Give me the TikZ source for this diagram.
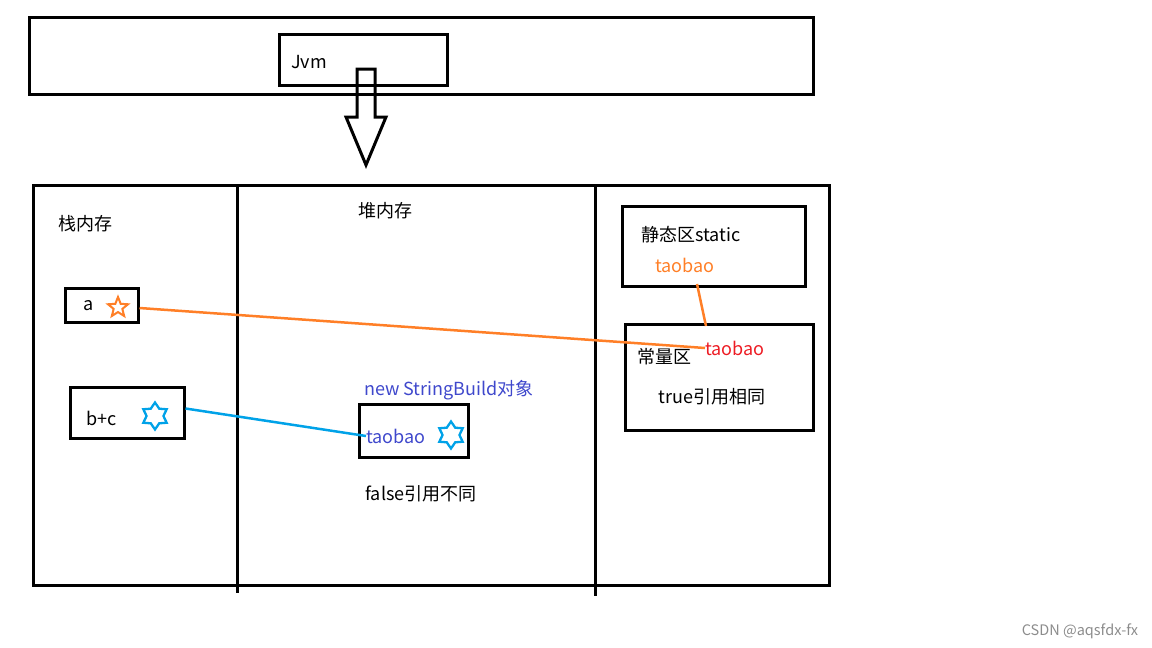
\documentclass[tikz,border=0pt]{standalone}
\usepackage{fontspec}
\setmainfont{Noto Sans CJK SC}
\usetikzlibrary{shapes.geometric}
\definecolor{paintorange}{RGB}{255,127,39}
\definecolor{paintred}{RGB}{237,28,36}
\definecolor{paintblue}{RGB}{0,162,232}
\definecolor{paintindigo}{RGB}{63,72,204}
\begin{document}
\begin{tikzpicture}[x=1pt,y=-1pt,
  box/.style={draw=black,line width=3pt,inner sep=0pt,line join=miter},
  txt/.style={inner sep=0pt,font=\fontsize{18}{21}\selectfont},
  wire/.style={line width=2.5pt},
  fivestar/.style={star,star points=5,star point ratio=2.3,draw=paintorange,line width=2pt,minimum size=21pt,inner sep=0pt},
  sixstar/.style={star,star points=6,star point ratio=1.6,draw=paintblue,line width=2.3pt,minimum size=27pt,inner sep=0pt}]
\useasboundingbox (0,0) rectangle (1152,648);
% top frame
\node[box,minimum width=784pt,minimum height=77pt] (top) at (421,55.5) {};
\node[box,minimum width=168pt,minimum height=51pt] (jvm) at (363,59.5) {};
\node[txt,anchor=west] (jvmt) at (291,62) {Jvm};
% hollow arrow
\draw[line width=3pt,line join=miter] (357,69) -- (375,69) -- (375,117) -- (386,117) -- (366,165) -- (346,117) -- (357,117) -- cycle;
% main frame
\node[box,minimum width=796pt,minimum height=400pt] (main) at (431,385) {};
\coordinate (d1t) at (237,185);
\coordinate (d1b) at (237,593);
\coordinate (d2t) at (595.5,185);
\coordinate (d2b) at (595.5,596);
\draw[line width=3pt] (d1t) -- (d1b);
\draw[line width=3pt] (d2t) -- (d2b);
% section titles
\node[txt,anchor=west] (stack) at (58,224) {栈内存};
\node[txt] (heap) at (385,211) {堆内存};
% stack boxes
\node[box,minimum width=73pt,minimum height=34pt] (boxa) at (101.5,305) {};
\node[txt] (ta) at (89,306) {a};
\node[fivestar] (sa) at (118,307.5) {};
\node[box,minimum width=114pt,minimum height=51pt] (boxbc) at (127,412.5) {};
\node[txt] (tbc) at (102,418) {b+c};
\node[sixstar] (sbc) at (155,416) {};
% heap
\node[txt,text=paintindigo] (sbtitle) at (449,390) {new StringBuild对象};
\node[box,minimum width=109pt,minimum height=53pt] (hbox) at (413.5,430.5) {};
\node[txt,text=paintindigo,anchor=west] (htao) at (366,436) {taobao};
\node[sixstar] (hs) at (451,435) {};
\node[txt] (false) at (421,494) {false引用不同};
% static area
\node[box,minimum width=183pt,minimum height=80pt] (static) at (713.5,246) {};
\node[txt,anchor=west] (statict) at (641,235) {静态区static};
\node[txt,text=paintorange] (stao) at (685,265) {taobao};
% constant pool
\node[box,minimum width=188pt,minimum height=106pt] (const) at (719,377) {};
\node[txt,anchor=west] (constt) at (637,357) {常量区};
\node[txt,text=paintred,anchor=west] (ctao) at (705,348) {taobao};
\node[txt] (true) at (712,397) {true引用相同};
% connectors
\coordinate (sbot) at (697,284);
\coordinate (ctop) at (706,326);
\draw[wire,paintorange] (boxa.east) ++(0,3) -- (ctao.west);
\draw[wire,paintorange] (sbot) -- (ctop);
\draw[wire,paintblue] (boxbc.east) ++(0,-4) -- (htao.west);
% watermark
\node[inner sep=0pt,text=black!45,font=\fontsize{14.5}{17}\selectfont] (wm) at (1080,631) {CSDN @aqsfdx-fx};
\end{tikzpicture}
\end{document}
